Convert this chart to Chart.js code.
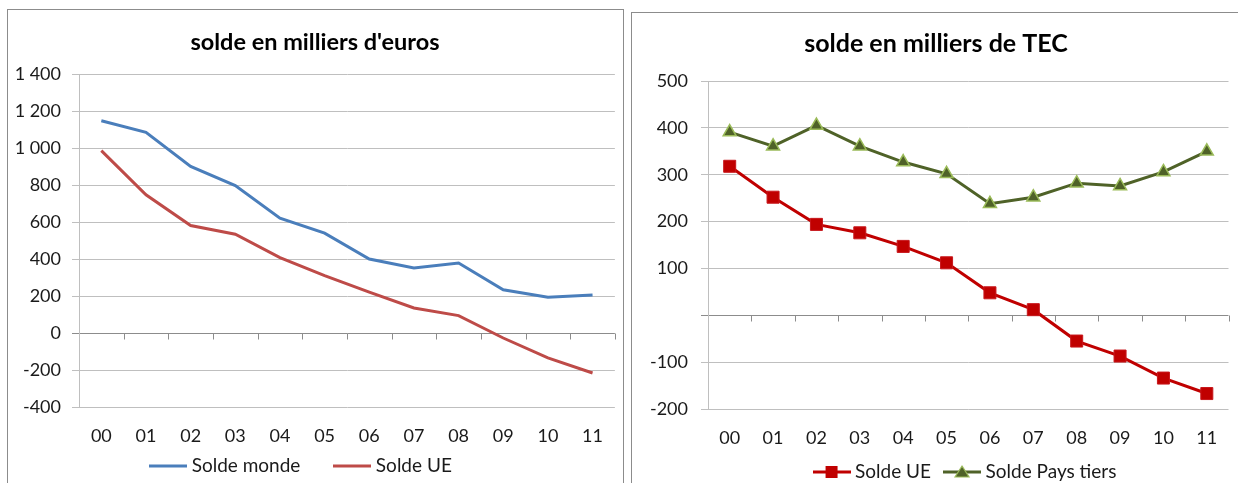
<!DOCTYPE html>
<html lang="fr">
<head>
<meta charset="utf-8">
<title>Soldes</title>
<script src="https://cdn.jsdelivr.net/npm/chart.js@4.4.1/dist/chart.umd.min.js"></script>
<style>
  html, body { margin: 0; padding: 0; background: #fff; width: 1238px; height: 483px; overflow: hidden; }
  .frame { position: absolute; border: 1.5px solid #8c8c8c; box-sizing: border-box; background: #fff; }
  #f1 { left: 7px; top: 9px; width: 617px; height: 500px; }
  #f2 { left: 631px; top: 12px; width: 620px; height: 500px; }
  canvas { position: absolute; }
  #c1 { left: 9px; top: 11px; }
  #c2 { left: 634px; top: 14px; }
</style>
</head>
<body>
<div class="frame" id="f1"></div>
<div class="frame" id="f2"></div>
<canvas id="c1" width="612" height="480"></canvas>
<canvas id="c2" width="604" height="480"></canvas>
<script>
// Années (2000 à 2011)
const years = ['00', '01', '02', '03', '04', '05', '06', '07', '08', '09', '10', '11'];

// Solde en milliers d'euros
const soldeMondeEuros = [1147, 1085, 900, 797, 621, 540, 400, 351, 378, 234, 193, 205];
const soldeUEEuros    = [986, 747, 581, 534, 408, 310, 221, 135, 94, -27, -135, -216];

// Solde en milliers de TEC
const soldeUETec         = [318, 252, 194, 176, 147, 112, 48, 12, -55, -87, -134, -167];
const soldePaysTiersTec  = [391, 361, 405, 361, 327, 302, 238, 252, 282, 276, 306, 350];

// Échelles des ordonnées
const eurosAxis = { min: -400, max: 1400, step: 200 };
const tecAxis   = { min: -200, max: 500, step: 100 };

Chart.defaults.font.family = 'Lato, "Open Sans", sans-serif';
Chart.defaults.color = '#1a1a1a';

const GRID = '#bfbfbf';
const AXIS = '#8c8c8c';

// Échantillon de légende : trait + marqueur éventuel
function legendSample(lineColor, marker, fill, stroke) {
  const c = document.createElement('canvas');
  c.width = 38; c.height = 16;
  const g = c.getContext('2d');
  g.strokeStyle = lineColor; g.lineWidth = 3;
  g.beginPath(); g.moveTo(0, 8); g.lineTo(38, 8); g.stroke();
  if (marker === 'rect') {
    g.fillStyle = fill; g.fillRect(13, 2, 12, 12);
  } else if (marker === 'triangle') {
    g.fillStyle = fill; g.strokeStyle = stroke; g.lineWidth = 1.2;
    g.beginPath(); g.moveTo(19, 2); g.lineTo(26, 13); g.lineTo(12, 13); g.closePath();
    g.fill(); g.stroke();
  }
  return c;
}

// Axe des catégories tracé sur la ligne du zéro, avec ses graduations
const zeroAxisTicks = {
  id: 'zeroAxisTicks',
  beforeDatasetsDraw(chart) {
    const x = chart.scales.x, y = chart.scales.y;
    const y0 = Math.round(y.getPixelForValue(0)) + 0.5;
    const ctx = chart.ctx;
    ctx.save();
    ctx.strokeStyle = AXIS; ctx.lineWidth = 1;
    ctx.beginPath();
    for (let i = 1; i <= chart.data.labels.length; i++) {
      const px = Math.round(x.getPixelForValue(i - 0.5)) + 0.5;
      ctx.moveTo(px, y0); ctx.lineTo(px, y0 + 6);
    }
    ctx.stroke();
    ctx.restore();
  }
};

// Décalage horizontal de la légende
function legendShift(dx) {
  return {
    id: 'legendShift',
    afterLayout(chart) {
      if (chart.legend) { chart.legend.left += dx; chart.legend.right += dx; }
    }
  };
}

function spaced(v) {
  return String(v).replace(/\B(?=(\d{3})+(?!\d))/g, ' ');
}

function makeOptions(cfg) {
  return {
    responsive: false,
    animation: false,
    events: [],
    layout: { padding: { left: 0, right: 0, top: 0, bottom: cfg.padBottom } },
    plugins: {
      title: {
        display: true,
        text: cfg.title,
        color: '#000',
        font: { size: cfg.titleSize, weight: 'bold' },
        padding: { top: cfg.titleTop, bottom: cfg.titleBottom }
      },
      legend: {
        position: 'bottom',
        labels: {
          usePointStyle: true,
          pointStyleWidth: 28,
          padding: cfg.legendPadding,
          font: { size: 19 },
          color: '#1a1a1a',
          generateLabels: (chart) => chart.data.datasets.map((ds, i) => ({
            text: ds.label,
            pointStyle: cfg.samples[i],
            fillStyle: ds.borderColor,
            strokeStyle: ds.borderColor,
            lineWidth: 0,
            hidden: false,
            datasetIndex: i,
            fontColor: '#1a1a1a'
          }))
        }
      },
      tooltip: { enabled: false }
    },
    scales: {
      x: {
        type: 'category',
        offset: true,
        grid: { display: false, drawTicks: false },
        border: { display: false },
        ticks: { padding: cfg.xPad, font: { size: 18 }, color: '#1a1a1a', maxRotation: 0, autoSkip: false },
        afterFit: (s) => {
          s.height = cfg.xHeight;
          // the year labels sit partly over the legend band: keep them unclipped
          s._computeLabelArea = () => null;
        }
      },
      y: {
        min: cfg.axis.min,
        max: cfg.axis.max,
        grid: {
          color: (c) => (c.tick && c.tick.value === 0 ? AXIS : GRID),
          lineWidth: 1,
          drawTicks: true,
          tickLength: 7
        },
        border: { display: true, color: GRID, width: 1 },
        ticks: {
          stepSize: cfg.axis.step,
          padding: cfg.yPad,
          font: { size: 18 },
          color: '#1a1a1a',
          callback: cfg.tickFormat
        },
        afterFit: (s) => { s.width = cfg.yWidth; }
      }
    }
  };
}

// Graphique 1 : milliers d'euros
new Chart(document.getElementById('c1'), {
  type: 'line',
  data: {
    labels: years,
    datasets: [
      { label: 'Solde monde', data: soldeMondeEuros, borderColor: '#4a7ebb', backgroundColor: '#4a7ebb',
        borderWidth: 3, pointRadius: 0, tension: 0, fill: false },
      { label: 'Solde UE', data: soldeUEEuros, borderColor: '#be4b48', backgroundColor: '#be4b48',
        borderWidth: 3, pointRadius: 0, tension: 0, fill: false }
    ]
  },
  options: makeOptions({
    title: "solde en milliers d'euros",
    titleSize: 23.5, titleTop: 16.9, titleBottom: 17.9,
    axis: eurosAxis,
    tickFormat: (v) => spaced(v),
    yWidth: 70, yPad: 11,
    xHeight: 11.5, xPad: 18,
    legendPadding: 38, padBottom: 5.5,
    samples: [legendSample('#4a7ebb'), legendSample('#be4b48')]
  }),
  plugins: [zeroAxisTicks, legendShift(-12)]
});

// Graphique 2 : milliers de TEC
new Chart(document.getElementById('c2'), {
  type: 'line',
  data: {
    labels: years,
    datasets: [
      { label: 'Solde UE', data: soldeUETec, borderColor: '#c00000', backgroundColor: '#c00000',
        borderWidth: 3, tension: 0, fill: false,
        pointStyle: 'rect', pointRadius: 8.5, pointBackgroundColor: '#c00000', pointBorderColor: '#c8171c', pointBorderWidth: 1 },
      { label: 'Solde Pays tiers', data: soldePaysTiersTec, borderColor: '#4f6228', backgroundColor: '#4f6228',
        borderWidth: 3, tension: 0, fill: false,
        pointStyle: 'triangle', pointRadius: 7.5, pointBackgroundColor: '#4f6228', pointBorderColor: '#9bbb59', pointBorderWidth: 1.5 }
    ]
  },
  options: makeOptions({
    title: 'solde en milliers de TEC',
    titleSize: 25, titleTop: 15, titleBottom: 22,
    axis: tecAxis,
    tickFormat: (v) => (v === 0 ? '' : String(v)),
    yWidth: 74, yPad: 13,
    xHeight: 36.5, xPad: 18,
    legendPadding: 17, padBottom: 2.5,
    samples: [legendSample('#c00000', 'rect', '#c00000'), legendSample('#4f6228', 'triangle', '#4f6228', '#9bbb59')]
  }),
  plugins: [zeroAxisTicks, legendShift(31)]
});
</script>
</body>
</html>
